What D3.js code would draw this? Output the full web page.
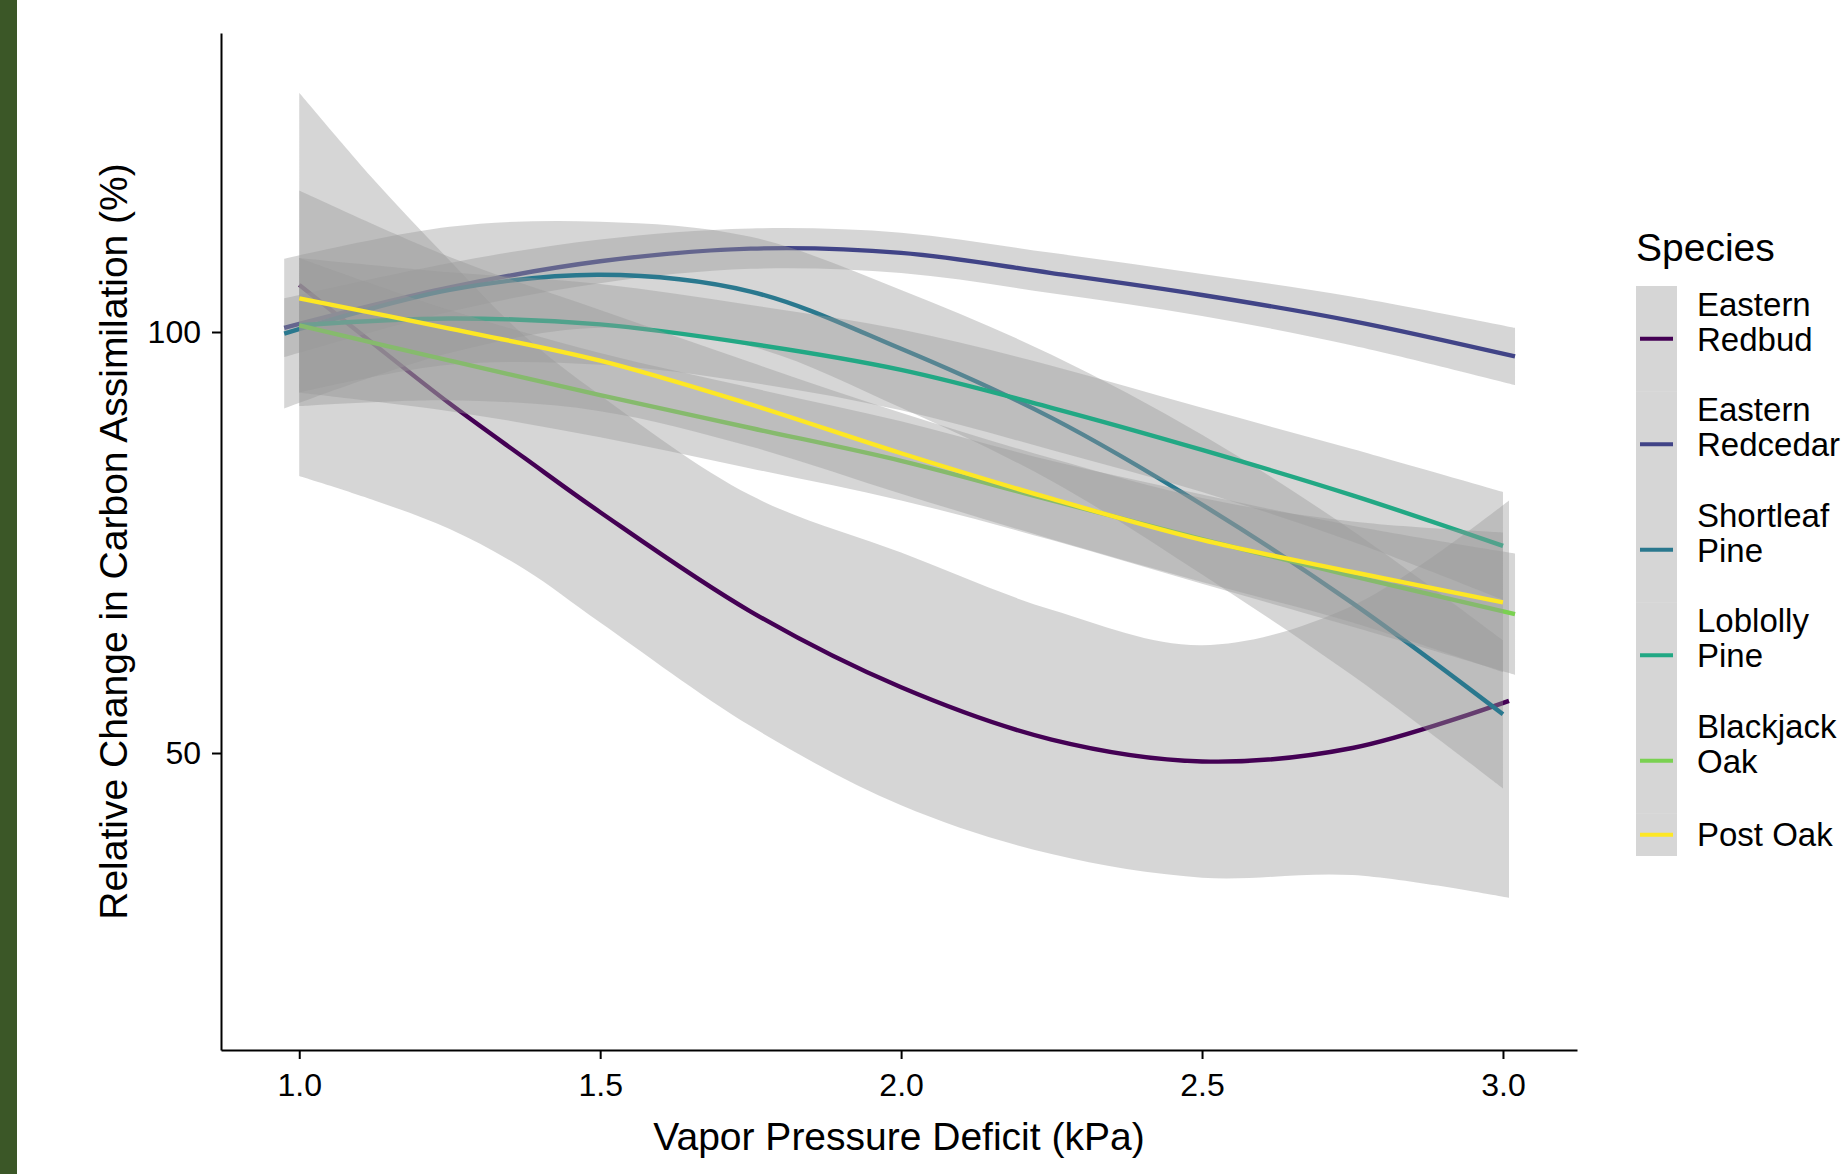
<!DOCTYPE html>
<html>
<head>
<meta charset="utf-8">
<script src="https://cdn.jsdelivr.net/npm/d3@7"></script>
<style>
  body { margin: 0; background: #fff; }
  text { font-family: "Liberation Sans", Arial, sans-serif; fill: #000; }
</style>
</head>
<body>
<div id="chart"></div>
<script>
// species + viridis colours (ggplot default for 6 groups)
let species = ['Eastern Redbud', 'Eastern Redcedar', 'Shortleaf Pine', 'Loblolly Pine', 'Blackjack Oak', 'Post Oak'];
let speciesColors = ['#440154', '#414487', '#2A788E', '#22A884', '#7AD151', '#FDE725'];
// legend labels are wrapped on two lines
let legendLabels = [['Eastern', 'Redbud'], ['Eastern', 'Redcedar'], ['Shortleaf', 'Pine'], ['Loblolly', 'Pine'], ['Blackjack', 'Oak'], ['Post Oak']];

// axis ticks
let xTicks = [1.0, 1.5, 2.0, 2.5, 3.0];
let yTicks = [50, 100];

// smoothed fits: vpd (kPa), fit, lower / upper CI (%)
let vpdRedbud = [1.0, 1.125, 1.25, 1.375, 1.5, 1.75, 2.0, 2.25, 2.5, 2.75, 3.01];
let fitRedbud = [105.6, 98.5, 91.5, 85.0, 78.6, 66.8, 57.8, 51.6, 49.0, 50.6, 56.2];
let lowRedbud = [82.9, 80.0, 76.6, 71.8, 65.5, 53.2, 43.8, 38.0, 35.2, 35.5, 32.8];
let highRedbud = [128.4, 118.0, 108.5, 99.5, 92.5, 80.6, 73.8, 67.0, 62.8, 67.5, 80.0];

let vpdRedcedar = [0.975, 1.25, 1.5, 1.75, 2.0, 2.25, 2.5, 2.75, 3.02];
let fitRedcedar = [100.5, 105.3, 108.4, 109.9, 109.4, 107.0, 104.4, 101.3, 97.1];
let lowRedcedar = [97.0, 102.4, 105.8, 107.5, 107.0, 104.6, 101.9, 98.4, 93.7];
let highRedcedar = [104.0, 108.2, 111.0, 112.3, 111.8, 109.4, 106.9, 104.2, 100.5];

let vpdShortleaf = [0.975, 1.25, 1.5, 1.75, 2.0, 2.25, 2.5, 2.75, 3.0];
let fitShortleaf = [99.8, 105.0, 106.8, 104.8, 98.0, 89.8, 79.5, 67.8, 54.6];
let lowShortleaf = [90.9, 97.5, 100.5, 98.3, 91.0, 82.3, 71.2, 59.2, 45.8];
let highShortleaf = [108.7, 112.5, 113.1, 111.3, 105.0, 97.3, 87.8, 76.4, 63.4];

let vpdLoblolly = [1.0, 1.25, 1.5, 1.75, 2.0, 2.25, 2.5, 2.75, 3.0];
let fitLoblolly = [100.8, 101.6, 100.9, 98.6, 95.5, 91.0, 86.0, 80.6, 74.6];
let lowLoblolly = [92.8, 96.1, 96.1, 94.0, 90.7, 86.0, 81.0, 75.1, 68.2];
let highLoblolly = [108.8, 107.1, 105.7, 103.2, 100.3, 96.0, 91.0, 86.1, 81.0];

let vpdBlackjack = [1.0, 1.25, 1.5, 1.75, 2.0, 2.25, 2.5, 2.75, 3.02];
let fitBlackjack = [100.8, 96.6, 92.5, 88.6, 84.7, 80.0, 75.4, 71.0, 66.5];
let lowBlackjack = [92.8, 90.6, 87.5, 83.8, 80.0, 75.3, 70.1, 65.0, 59.3];
let highBlackjack = [108.8, 102.6, 97.5, 93.4, 89.4, 84.7, 80.7, 77.0, 73.7];

let vpdPostOak = [1.0, 1.25, 1.5, 1.75, 2.0, 2.25, 2.5, 2.75, 3.0];
let fitPostOak = [104.0, 100.4, 96.6, 91.4, 85.6, 80.2, 75.3, 71.5, 67.9];
let lowPostOak = [91.2, 91.9, 90.6, 86.4, 80.8, 75.4, 70.3, 65.5, 59.6];
let highPostOak = [116.8, 108.9, 102.6, 96.4, 90.4, 85.0, 80.3, 77.5, 76.2];

// group them in legend order
let seriesVpd = [vpdRedbud, vpdRedcedar, vpdShortleaf, vpdLoblolly, vpdBlackjack, vpdPostOak];
let seriesFit = [fitRedbud, fitRedcedar, fitShortleaf, fitLoblolly, fitBlackjack, fitPostOak];
let seriesLow = [lowRedbud, lowRedcedar, lowShortleaf, lowLoblolly, lowBlackjack, lowPostOak];
let seriesHigh = [highRedbud, highRedcedar, highShortleaf, highLoblolly, highBlackjack, highPostOak];


// page / panel size
let W = 1845, H = 1174;
let panel = {left: 221, right: 1577, top: 33, bottom: 1050};

let svg = d3.select('#chart')
            .append('svg')
            .attr('width', W)
            .attr('height', H);

// green strip down the left edge
svg.append('rect')
    .attr('x', 0).attr('y', 0)
    .attr('width', 17).attr('height', H)
    .attr('fill', '#3b5727');

// scales (ggplot style 5% expansion already baked into the domains)
let x = d3.scaleLinear()
            .domain([0.870, 3.123])
            .range([panel.left, panel.right]);

let y = d3.scaleLinear()
            .domain([14.73, 135.51])
            .range([panel.bottom, panel.top]);

let area = d3.area()
            .x(d => x(d.vpd))
            .y0(d => y(d.low))
            .y1(d => y(d.high))
            .curve(d3.curveCatmullRom.alpha(0.5));

let line = d3.line()
            .x(d => x(d.vpd))
            .y(d => y(d.fit))
            .curve(d3.curveCatmullRom.alpha(0.5));

// ribbon then line for every group, same order as geom_smooth
let plot = svg.append('g').attr('class', 'smooths');
species.forEach((name, i) => {
    let rows = seriesVpd[i].map((v, j) => ({vpd: v, fit: seriesFit[i][j], low: seriesLow[i][j], high: seriesHigh[i][j]}));

    plot.append('path')
        .datum(rows)
        .attr('fill', '#999999')
        .attr('fill-opacity', 0.4)
        .attr('d', area);

    plot.append('path')
        .datum(rows)
        .attr('fill', 'none')
        .attr('stroke', speciesColors[i])
        .attr('stroke-width', 4.4)
        .attr('d', line);
});

// axes
let xAxis = svg.append('g')
    .attr('class', 'axis x-axis')
    .attr('transform', 'translate(0,' + panel.bottom + ')')
    .call(d3.axisBottom(x).tickValues(xTicks).tickFormat(d3.format('.1f'))
            .tickSize(9).tickSizeOuter(0).tickPadding(14));

let yAxis = svg.append('g')
    .attr('class', 'axis y-axis')
    .attr('transform', 'translate(' + panel.left + ',0)')
    .call(d3.axisLeft(y).tickValues(yTicks).tickSize(9).tickSizeOuter(0).tickPadding(11));

svg.selectAll('.axis path, .axis line')
    .attr('stroke', '#000')
    .attr('stroke-width', 2);
svg.selectAll('.axis text')
    .attr('font-size', 32)
    .attr('font-family', '"Liberation Sans", Arial, sans-serif')
    .attr('fill', '#000');

// axis titles
svg.append('text')
    .attr('x', (panel.left + panel.right) / 2)
    .attr('y', 1150)
    .attr('font-size', 39)
    .style('text-anchor', 'middle')
    .text('Vapor Pressure Deficit (kPa)');

svg.append('text')
    .attr('transform', 'translate(127,' + (panel.top + panel.bottom) / 2 + ') rotate(-90)')
    .attr('font-size', 39)
    .style('text-anchor', 'middle')
    .text('Relative Change in Carbon Assimilation (%)');

// legend
let legend = svg.append('g').attr('class', 'legend').attr('transform', 'translate(1636,0)');

legend.append('text')
    .attr('x', 0)
    .attr('y', 261)
    .attr('font-size', 39)
    .text('Species');

// key heights depend on how many label lines there are
let keyTop = 286;
species.forEach((name, i) => {
    let lines = legendLabels[i];
    let h = lines.length > 1 ? 105.5 : 42.5;
    let mid = keyTop + h / 2;

    legend.append('rect')
        .attr('x', 0).attr('y', keyTop)
        .attr('width', 41).attr('height', h)
        .attr('fill', '#999999').attr('fill-opacity', 0.4);

    legend.append('line')
        .attr('x1', 4).attr('x2', 37)
        .attr('y1', mid).attr('y2', mid)
        .attr('stroke', speciesColors[i])
        .attr('stroke-width', 4);

    let t = legend.append('text')
        .attr('x', 61)
        .attr('font-size', 33);
    if (lines.length > 1) {
        t.append('tspan').attr('x', 61).attr('y', mid - 23).text(lines[0]);
        t.append('tspan').attr('x', 61).attr('y', mid + 12).text(lines[1]);
    } else {
        t.attr('y', mid + 11).text(lines[0]);
    }
    keyTop += h;
});
</script>
</body>
</html>
